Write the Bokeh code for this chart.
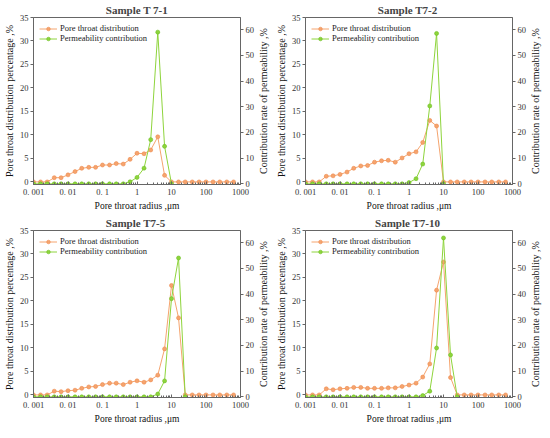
import math
from bokeh.plotting import figure
from bokeh.models import Range1d, LinearAxis, FixedTicker, Legend, LegendItem, Label
from bokeh.layouts import gridplot
from bokeh.embed import file_html
from bokeh.resources import INLINE

radius = [0.001, 0.0016, 0.0025, 0.004, 0.0063, 0.01, 0.016, 0.025, 0.04, 0.063,
          0.1, 0.16, 0.25, 0.4, 0.63, 1, 1.6, 2.5, 4, 6.3,
          10, 16, 25, 40, 63, 100, 160, 250, 400, 630]

titles = ["Sample T 7-1", "Sample  T7-2", "Sample  T7-5", "Sample  T7-10"]

pore_t71 = [0, 0, 0, 0.9, 0.9, 1.5, 2.2, 2.9, 3.1, 3.1, 3.6, 3.6, 3.9, 3.8, 4.8,
            6.1, 6.0, 6.8, 9.6, 1.4, 0, 0, 0, 0, 0, 0, 0, 0, 0, 0]
perm_t71 = [0, 0, 0, 0, 0, 0, 0, 0, 0, 0, 0, 0, 0, 0, 0.8, 2.5, 6.1, 17.2, 59.0, 14.6, 0]

pore_t72 = [0, 0, 0, 1.2, 1.3, 1.6, 2.1, 2.9, 3.4, 3.5, 4.2, 4.5, 4.6, 4.2, 5.1,
            6.0, 6.4, 8.4, 13.1, 11.9, 0, 0, 0, 0, 0, 0, 0, 0, 0, 0]
perm_t72 = [0, 0, 0, 0, 0, 0, 0, 0, 0, 0, 0, 0, 0, 0, 0, 0.5, 2.0, 7.7, 30.3, 58.5, 0]

pore_t75 = [0, 0, 0, 0.8, 0.7, 0.9, 1.0, 1.4, 1.7, 1.8, 2.2, 2.5, 2.5, 2.2, 2.7,
            3.0, 2.7, 3.2, 4.2, 9.8, 23.3, 16.4, 0, 0, 0, 0, 0, 0, 0, 0]
perm_t75 = [0, 0, 0, 0, 0, 0, 0, 0, 0, 0, 0, 0, 0, 0, 0, 0, 0, 0, 1.1, 6.2, 38.2, 54.0, 0]

pore_t710 = [0, 0, 0, 1.3, 1.1, 1.3, 1.4, 1.6, 1.6, 1.4, 1.4, 1.4, 1.5, 1.5, 1.8,
             2.1, 2.5, 3.8, 6.6, 22.3, 28.3, 3.7, 0, 0, 0, 0, 0, 0, 0, 0]
perm_t710 = [0, 0, 0, 0, 0, 0, 0, 0, 0, 0, 0, 0, 0, 0, 0, 0, 0, 0.5, 2.2, 19.0, 61.8, 16.3, 0]

x_ticks = [0.001, 0.01, 0.1, 1, 10, 100, 1000]
x_tick_labels = ["0. 001", "0. 01", "0. 1", "1", "10", "100", "1000"]
left_ticks = [0, 5, 10, 15, 20, 25, 30, 35]
right_ticks = [0, 10, 20, 30, 40, 50, 60]

series = [(pore_t71, perm_t71), (pore_t72, perm_t72), (pore_t75, perm_t75), (pore_t710, perm_t710)]

ORANGE = "#F5A46E"
GREEN = "#8ED43C"
AXC = "#666666"
FONT = "Liberation Serif"

W, H = 267, 211
BL, BR, BT, BB = 28, 32, 17, 27
FW, FH = W - BL - BR, H - BT - BB

minor = [m * 10.0 ** e for e in range(-3, 3) for m in range(2, 10)]


def style_axis(ax, size_lbl="8.5px", size_title="10px"):
    ax.axis_line_color = AXC
    ax.major_tick_line_color = AXC
    ax.minor_tick_line_color = None
    ax.major_label_text_font = FONT
    ax.major_label_text_font_size = size_lbl
    ax.major_label_text_color = "#333333"
    ax.axis_label_text_font = FONT
    ax.axis_label_text_font_size = size_title
    ax.axis_label_text_font_style = "normal"
    ax.axis_label_text_color = "#111111"
    ax.major_label_standoff = 2
    ax.axis_label_standoff = 2


RTEXT = "Contribution rate of permeability ,%"

figs = []
for title, (pore, perm) in zip(titles, series):
    p = figure(frame_width=FW, frame_height=FH, x_axis_type="log",
               x_range=Range1d(0.001, 1000), y_range=Range1d(-0.55, 35),
               output_backend="svg", toolbar_location=None,
               min_border_left=BL, min_border_right=BR, min_border_top=BT,
               min_border_bottom=BB)
    p.title.text = title
    p.title.align = "center"
    p.title.text_font = FONT
    p.title.text_font_size = "11px"
    p.title.text_font_style = "bold"
    p.title.offset = 0
    p.title.standoff = 3
    p.outline_line_color = AXC
    p.outline_line_width = 1
    p.xgrid.visible = False
    p.ygrid.visible = False
    p.background_fill_color = "white"
    p.border_fill_color = "white"

    p.extra_y_ranges = {"perm": Range1d(-0.25, 64.7)}
    rax = LinearAxis(y_range_name="perm")
    rax.ticker = FixedTicker(ticks=right_ticks)
    style_axis(rax)
    rax.major_tick_in = 0
    rax.major_tick_out = 3
    p.add_layout(rax, "right")

    p.add_layout(Label(x=6, y=FH / 2, x_units="screen", y_units="screen",
                       text=RTEXT, angle=math.pi / 2, text_align="center",
                       text_baseline="middle", text_font=FONT, text_font_size="10px",
                       text_color="#111111"), "right")

    xa = p.xaxis[0]
    xa.ticker = FixedTicker(ticks=x_ticks, minor_ticks=minor)
    xa.major_label_overrides = dict(zip(x_ticks, x_tick_labels))
    xa.axis_label = "Pore throat radius ,μm"
    style_axis(xa, size_title="9.5px")
    xa.minor_tick_line_color = AXC
    xa.major_tick_in = 3
    xa.major_tick_out = 0
    xa.minor_tick_in = 2
    xa.minor_tick_out = 0
    xa.axis_label_standoff = 1

    ya = p.yaxis[0]
    ya.ticker = FixedTicker(ticks=left_ticks)
    ya.axis_label = "Pore throat distribution percentage ,%"
    style_axis(ya)
    ya.major_tick_in = 0
    ya.major_tick_out = 3

    xs_perm = radius[:len(perm)]
    l1 = p.line(radius, pore, line_color=ORANGE, line_width=1)
    s1 = p.scatter(radius, pore, marker="circle", size=4, fill_color=ORANGE,
                   line_color="#EE8A4E", line_width=0.6)
    l2 = p.line(xs_perm, perm, line_color=GREEN, line_width=1, y_range_name="perm")
    s2 = p.scatter(xs_perm, perm, marker="circle", size=4, fill_color=GREEN,
                   line_color="#6CBF20", line_width=0.6, y_range_name="perm")

    legend = Legend(items=[LegendItem(label="Pore throat distribution", renderers=[l1, s1]),
                           LegendItem(label="Permeability contribution", renderers=[l2, s2])],
                    location="top_left")
    legend.border_line_color = None
    legend.background_fill_alpha = 0
    legend.label_text_font = FONT
    legend.label_text_font_size = "8.5px"
    legend.label_text_color = "#222222"
    legend.glyph_width = 18
    legend.glyph_height = 9
    legend.label_height = 9
    legend.label_standoff = 3
    legend.spacing = 0
    legend.padding = 2
    legend.margin = 6
    p.add_layout(legend)
    figs.append(p)

grid = gridplot([[figs[0], figs[1]], [figs[2], figs[3]]], toolbar_location=None)

open("out.html", "w").write(file_html(grid, INLINE))
